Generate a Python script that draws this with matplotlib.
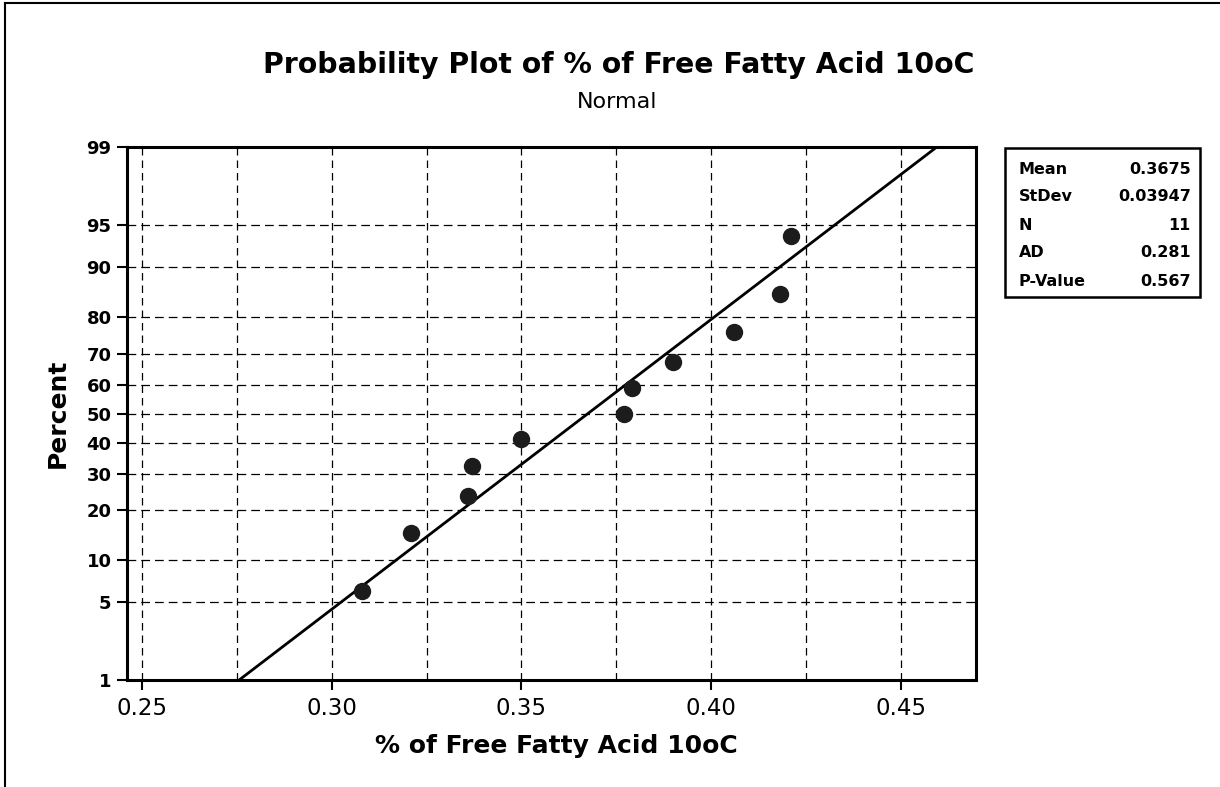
import math
import numpy as np
import matplotlib as mpl
mpl.use('Agg')
import matplotlib.pyplot as plt
from matplotlib.lines import Line2D
from matplotlib.patches import Rectangle
from matplotlib.ticker import FixedLocator, FuncFormatter

plt.rcParams['font.family'] = ['DejaVu Sans']

# data
ffa = [0.308, 0.321, 0.336, 0.337, 0.350, 0.377, 0.379, 0.390, 0.406, 0.418, 0.421]
pct = [6.1, 14.9, 23.7, 32.5, 41.2, 50.0, 58.8, 67.5, 76.3, 85.1, 93.9]

stat_names = ["Mean", "StDev", "N", "AD", "P-Value"]
stat_vals = ["0.3675", "0.03947", "11", "0.281", "0.567"]
mean, stdev = 0.3675, 0.03947

y_ticks = [1, 5, 10, 20, 30, 40, 50, 60, 70, 80, 90, 95, 99]
x_ticks = [0.25, 0.30, 0.35, 0.40, 0.45]
x_grid = [0.25, 0.275, 0.30, 0.325, 0.35, 0.375, 0.40, 0.425, 0.45]


# normal probability scale (percent <-> z)
def _ppf(p):
    # Acklam's rational approximation
    a = [-3.969683028665376e+01, 2.209460984245205e+02, -2.759285104469687e+02,
         1.383577518672690e+02, -3.066479806614716e+01, 2.506628277459239e+00]
    b = [-5.447609879822406e+01, 1.615858368580409e+02, -1.556989798598866e+02,
         6.680131188771972e+01, -1.328068155288572e+01]
    c = [-7.784894002430293e-03, -3.223964580411365e-01, -2.400758277161838e+00,
         -2.549732539343734e+00, 4.374664141464968e+00, 2.938163982698783e+00]
    d = [7.784695709041462e-03, 3.224671290700398e-01, 2.445134137142996e+00,
         3.754408661907416e+00]
    plow = 0.02425
    if p < plow:
        q = math.sqrt(-2 * math.log(p))
        return (((((c[0]*q+c[1])*q+c[2])*q+c[3])*q+c[4])*q+c[5]) / \
               ((((d[0]*q+d[1])*q+d[2])*q+d[3])*q+1)
    if p > 1 - plow:
        q = math.sqrt(-2 * math.log(1 - p))
        return -(((((c[0]*q+c[1])*q+c[2])*q+c[3])*q+c[4])*q+c[5]) / \
                ((((d[0]*q+d[1])*q+d[2])*q+d[3])*q+1)
    q = p - 0.5
    r = q * q
    return (((((a[0]*r+a[1])*r+a[2])*r+a[3])*r+a[4])*r+a[5])*q / \
           (((((b[0]*r+b[1])*r+b[2])*r+b[3])*r+b[4])*r+1)


_vppf = np.vectorize(_ppf, otypes=[float])
_verf = np.vectorize(math.erf, otypes=[float])


def forward(v):
    v = np.clip(np.asarray(v, dtype=float), 1e-6, 100 - 1e-6) / 100.0
    return _vppf(v)


def inverse(z):
    z = np.asarray(z, dtype=float)
    return 100.0 * 0.5 * (1 + _verf(z / math.sqrt(2)))


fig = plt.figure(figsize=(12.2, 7.87), dpi=100)
ax = fig.add_axes([0.104, 0.136, 0.696, 0.677])
ax.set_yscale('function', functions=(forward, inverse))
ax.set_ylim(1, 99)
ax.set_xlim(0.2461, 0.4697)

# grid
for g in x_grid:
    ax.axvline(g, color='black', lw=0.9, ls=(0, (6, 4)), zorder=1)
for g in y_ticks[1:-1]:
    ax.axhline(g, color='black', lw=0.9, ls=(0, (7, 4)), zorder=1)

# fitted line from mean / stdev
line_p = np.array([1.0, 99.0])
line_x = mean + stdev * forward(line_p)
ax.plot(line_x, line_p, color='black', lw=2.0, zorder=3)

ax.plot(ffa, pct, 'o', color='#1c1c1c', markersize=11.5, zorder=4)

ax.yaxis.set_major_locator(FixedLocator(y_ticks))
ax.yaxis.set_minor_locator(FixedLocator([]))
ax.yaxis.set_major_formatter(FuncFormatter(lambda v, p: "%d" % round(v)))
ax.xaxis.set_major_locator(FixedLocator(x_ticks))
ax.xaxis.set_major_formatter(FuncFormatter(lambda v, p: "%.2f" % v))
ax.tick_params(axis='y', labelsize=13, length=7, width=1.5, direction='out', pad=4)
ax.tick_params(axis='x', labelsize=16.5, length=7, width=1.5, direction='out', pad=5)
for lab in ax.get_yticklabels():
    lab.set_fontweight('bold')
for s in ax.spines.values():
    s.set_linewidth(2.2)

fig.text(0.507, 0.907, "Probability Plot of % of Free Fatty Acid 10oC",
         ha='center', va='baseline', fontsize=20.4, fontweight='bold')
fig.text(0.506, 0.863, "Normal", ha='center', va='baseline', fontsize=16)
fig.text(0.456, 0.043, "% of Free Fatty Acid 10oC", ha='center', va='baseline',
         fontsize=18, fontweight='bold')
fig.text(0.047, 0.475, "Percent", ha='center', va='center', rotation=90,
         fontsize=18, fontweight='bold')

# stats box
fig.patches.append(Rectangle((0.824, 0.623), 0.160, 0.189, transform=fig.transFigure,
                             fill=False, ec='black', lw=1.8))
row_y = [0.785, 0.750, 0.714, 0.679, 0.642]
for name, val, yy in zip(stat_names, stat_vals, row_y):
    fig.text(0.835, yy, name, ha='left', va='center', fontsize=11.5, fontweight='bold')
    fig.text(0.976, yy, val, ha='right', va='center', fontsize=11.5, fontweight='bold')

# page border (scanned frame)
fig.add_artist(Line2D([0.004, 0.004], [0.0, 0.996], color='black', lw=1.5,
                      transform=fig.transFigure))
fig.add_artist(Line2D([0.004, 1.0], [0.996, 0.996], color='black', lw=1.5,
                      transform=fig.transFigure))

fig.savefig("out.png", dpi=100)
